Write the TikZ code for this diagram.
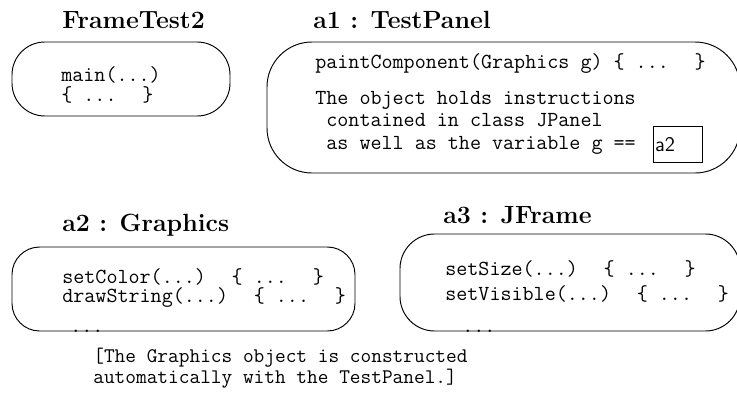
\documentclass[tikz,border=0pt]{standalone}

\tikzset{
  objbox/.style={draw, line width=0.55pt, rounded corners=#1},
  objbox/.default=18pt,
  objname/.style={anchor=base west, inner sep=0pt, font=\Large\bfseries},
  code/.style={anchor=base west, inner sep=0pt, font=\fontsize{12.4}{15}\selectfont\ttfamily},
  remark/.style={anchor=base west, inner sep=0pt, font=\large\ttfamily},
}

\begin{document}
\begin{tikzpicture}[x=0.578pt,y=-0.578pt]
    \useasboundingbox (0,0) rectangle (737,395);
    % FrameTest2
    \node[objname] (ftname) at (62,28) {FrameTest2};
    \draw[objbox=19pt] (12,42) rectangle (230,116);
    \node[code] (ftmain) at (61,81) {main(...)};
    \node[code] (ftbody) at (61,101) {\{ ...~ \}};
    % a1 : TestPanel
    \node[objname] (aonename) at (313,28) {a1 : TestPanel};
    \draw[objbox=26pt] (267,42) rectangle (740,173);
    \node[code] (paint) at (315,68) {paintComponent(Graphics g) \{ ...~ \}};
    \node[code] (noteone) at (315,104) {The object holds instructions};
    \node[code] (notetwo) at (315,126) {~contained in class JPanel};
    \node[code] (notethree) at (315,149) {~as well as the variable g ==};
    \node[draw, line width=0.55pt, anchor=north west, inner xsep=1pt, inner ysep=0pt,
          text width=26.3pt, minimum height=20.8pt, font=\large\sffamily]
          (gref) at (653,126) {a2};
    % a2 : Graphics
    \node[objname] (atwoname) at (62,231) {a2 : Graphics};
    \draw[objbox=16pt] (12,247) rectangle (355,331);
    \node[code] (setcolor) at (62,283) {setColor(...)~ \{ ...~ \}};
    \node[code] (drawstring) at (62,302) {drawString(...)~ \{ ...~ \}};
    \node[code] (gmore) at (70,332) {...};
    % a3 : JFrame
    \node[objname] (athreename) at (443,223) {a3 : JFrame};
    \draw[objbox=20pt] (400,234) rectangle (740,331);
    \node[code] (setsize) at (445,275) {setSize(...)~ \{ ...~ \}};
    \node[code] (setvisible) at (445,300) {setVisible(...)~ \{ ...~ \}};
    \node[code] (fmore) at (462,332) {...};
    % caption
    \node[remark] (capone) at (93,362) {[The Graphics object is constructed};
    \node[remark] (captwo) at (93,383) {automatically with the TestPanel.]};
\end{tikzpicture}
\end{document}
